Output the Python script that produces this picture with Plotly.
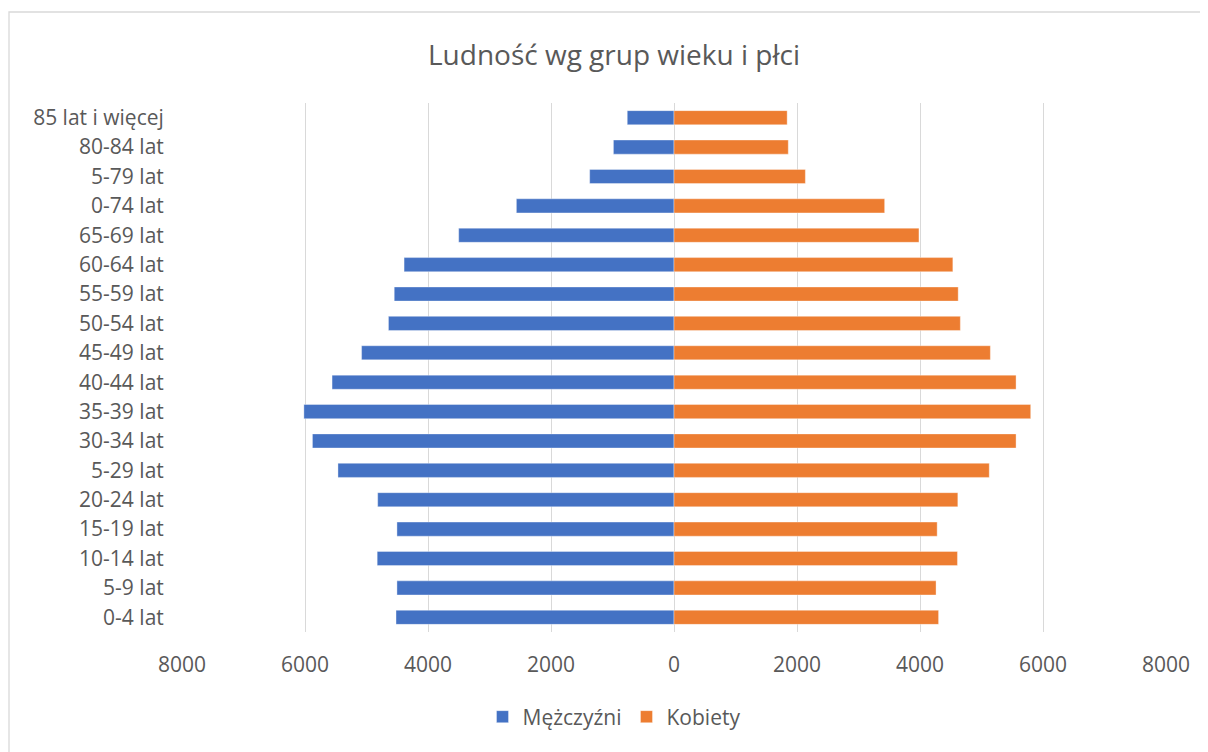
import plotly.graph_objects as go

categories = ["0-4 lat", "5-9 lat", "10-14 lat", "15-19 lat", "20-24 lat", "5-29 lat",
              "30-34 lat", "35-39 lat", "40-44 lat", "45-49 lat", "50-54 lat", "55-59 lat",
              "60-64 lat", "65-69 lat", "0-74 lat", "5-79 lat", "80-84 lat", "85 lat i więcej"]
men = [4520, 4505, 4826, 4505, 4818, 5464, 5879, 6018, 5560, 5080, 4643, 4549,
       4389, 3501, 2563, 1371, 985, 760]
women = [4302, 4261, 4609, 4279, 4615, 5126, 5562, 5800, 5562, 5144, 4656, 4621,
         4534, 3983, 3425, 2136, 1858, 1840]
tick_vals = [-8000, -6000, -4000, -2000, 0, 2000, 4000, 6000, 8000]
tick_text = ["8000", "6000", "4000", "2000", "0", "2000", "4000", "6000", "8000"]

FONT = "'Open Sans', 'Noto Sans', sans-serif"
TXT = "#595959"

# page body has an 8px offset; target window coordinates are converted below
OFF = 8
PL, PR, PT, PB = 182 - OFF, 1166 - OFF, 103 - OFF, 632 - OFF
W, H = 1208, 752
PW, PH = PR - PL, PB - PT


def px(xw):
    return (xw - OFF - PL) / PW


def py(yw):
    return (PB - (yw - OFF)) / PH


fig = go.Figure()
fig.add_trace(go.Bar(y=categories, x=[-v for v in men], orientation="h", name="Mężczyźni",
                     marker=dict(color="#4472C4", line=dict(width=0.6, color="rgba(255,255,255,0.6)")),
                     customdata=men, hovertemplate="%{y}: %{customdata}<extra></extra>"))
fig.add_trace(go.Bar(y=categories, x=women, orientation="h", name="Kobiety",
                     marker=dict(color="#ED7D31", line=dict(width=0.6, color="rgba(255,255,255,0.6)"))))

fig.update_layout(
    width=W, height=H,
    barmode="relative", bargap=0.52,
    paper_bgcolor="white", plot_bgcolor="white",
    margin=dict(l=PL, r=W - PR, t=PT, b=H - PB),
    font=dict(family=FONT, color=TXT, size=21),
    title=dict(text="Ludność wg grup wieku i płci", x=(614 - OFF) / W, xanchor="center",
               y=1 - (55 - OFF) / H, yanchor="middle", font=dict(size=28, color=TXT, family=FONT)),
    showlegend=True,
    legend=dict(orientation="h", x=px(614), xanchor="center", y=py(717),
                yanchor="middle", font=dict(size=21, color=TXT), traceorder="normal",
                itemwidth=30, tracegroupgap=0),
    xaxis=dict(range=[-8000, 8000], tickvals=tick_vals, ticktext=tick_text,
               showgrid=True, gridcolor="#d9d9d9", gridwidth=1.3, zeroline=True,
               zerolinecolor="#d9d9d9", zerolinewidth=1.3, showline=False,
               ticks="outside", ticklen=14, tickcolor="rgba(0,0,0,0)",
               tickfont=dict(size=21, color=TXT)),
    yaxis=dict(categoryorder="array", categoryarray=categories, showgrid=False,
               zeroline=False, showline=False, ticks="outside", ticklen=13,
               tickcolor="rgba(0,0,0,0)", tickfont=dict(size=21, color=TXT)),
    shapes=[dict(type="rect", xref="paper", yref="paper",
                 x0=px(9), x1=px(1230), y0=py(770), y1=py(12),
                 line=dict(color="#d9d9d9", width=1.3), fillcolor="rgba(0,0,0,0)", layer="below")],
)

fig.write_html("out.html")
